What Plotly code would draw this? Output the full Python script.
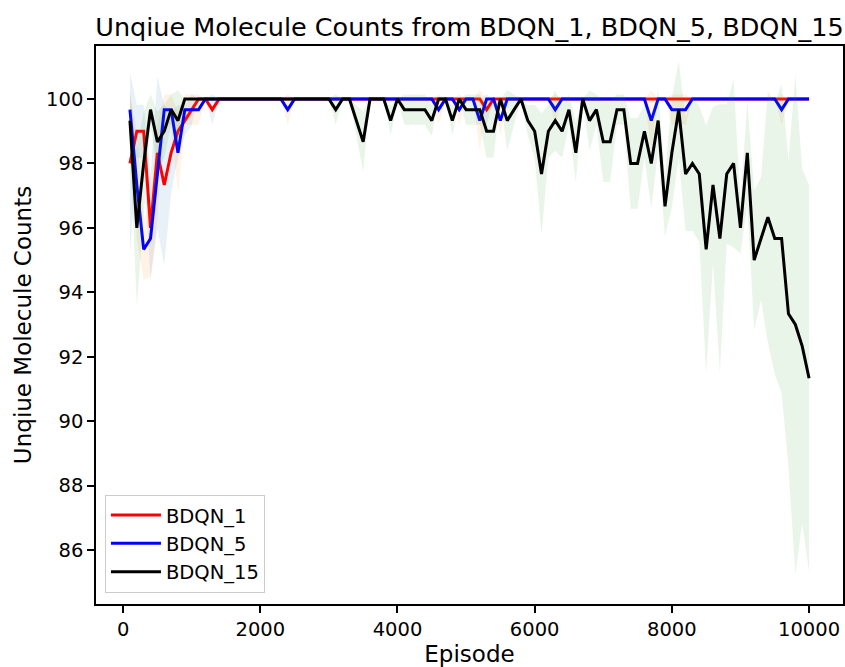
import numpy as np
import plotly.graph_objects as go

episodes = list(range(100, 10001, 100))

bdqn1_mean = [
    98.0, 99.0, 99.0, 96.0, 98.33, 97.33, 98.33, 99.0, 99.33, 99.67,
    100, 100, 99.67, 100, 100, 100, 100, 100, 100, 100,
    100, 100, 100, 100, 100, 100, 100, 100, 100, 100,
    100, 100, 100, 100, 100, 100, 100, 100, 100, 100,
    100, 100, 100, 100, 100, 100, 100, 100, 100, 100,
    100, 100, 99.67, 100, 100, 100, 100, 100, 100, 100,
    100, 100, 100, 100, 100, 100, 100, 100, 100, 100,
    100, 100, 100, 100, 100, 100, 100, 100, 100, 100,
    100, 100, 100, 100, 100, 100, 100, 100, 100, 100,
    100, 100, 100, 100, 100, 100, 100, 100, 100, 100,
]
bdqn1_std = [
    2.83, 0.82, 0.82, 1.63, 2.36, 2.49, 1.25, 0.82, 0.47, 0.47,
    0, 0, 0.47, 0, 0, 0, 0, 0, 0, 0,
    0, 0, 0, 0, 0, 0, 0, 0, 0, 0,
    0, 0, 0, 0, 0, 0, 0, 0, 0, 0,
    0, 0, 0, 0, 0, 0, 0, 0, 0, 0,
    0, 0, 0.47, 0, 0, 0, 0, 0, 0, 0,
    0, 0, 0, 0, 0, 0, 0, 0, 0, 0,
    0, 0, 0, 0, 0, 0, 0, 0, 0, 0,
    0, 0, 0, 0, 0, 0, 0, 0, 0, 0,
    0, 0, 0, 0, 0, 0, 0, 0, 0, 0,
]

bdqn5_mean = [
    99.67, 97.33, 95.33, 95.67, 97.67, 99.67, 99.67, 98.33, 99.67, 99.67,
    99.67, 100, 100, 100, 100, 100, 100, 100, 100, 100,
    100, 100, 100, 99.67, 100, 100, 100, 100, 100, 100,
    100, 100, 100, 100, 100, 100, 100, 100, 100, 100,
    100, 100, 100, 100, 100, 99.67, 100, 100, 99.67, 100,
    100, 99.33, 100, 100, 99.33, 100, 100, 100, 100, 100,
    100, 100, 99.67, 100, 100, 100, 100, 100, 100, 100,
    100, 100, 100, 100, 100, 100, 99.33, 100, 100, 99.67,
    99.67, 99.67, 100, 100, 100, 100, 100, 100, 100, 100,
    100, 100, 100, 100, 100, 99.67, 100, 100, 100, 100,
]
bdqn5_std = [
    0.47, 1.7, 0.94, 1.2, 1.5, 0.47, 0.47, 1.25, 0.47, 0.47,
    0.47, 0, 0, 0, 0, 0, 0, 0, 0, 0,
    0, 0, 0, 0.47, 0, 0, 0, 0, 0, 0,
    0, 0, 0, 0, 0, 0, 0, 0, 0, 0,
    0, 0, 0, 0, 0, 0.47, 0, 0, 0.47, 0,
    0, 0.94, 0, 0, 0.47, 0, 0, 0, 0, 0,
    0, 0, 0.47, 0, 0, 0, 0, 0, 0, 0,
    0, 0, 0, 0, 0, 0, 0.94, 0, 0, 0.47,
    0.47, 0.47, 0, 0, 0, 0, 0, 0, 0, 0,
    0, 0, 0, 0, 0, 0.47, 0, 0, 0, 0,
]

bdqn15_mean = [
    99.33, 96.0, 98.0, 99.67, 98.67, 99.0, 99.67, 99.33, 100, 100,
    100, 100, 100, 100, 100, 100, 100, 100, 100, 100,
    100, 100, 100, 100, 100, 100, 100, 100, 100, 100,
    99.67, 100, 100, 99.33, 98.67, 100, 100, 100, 99.33, 100,
    99.67, 99.67, 99.67, 99.67, 99.33, 100, 100, 99.33, 100, 99.67,
    99.67, 99.67, 99.0, 99.0, 100, 99.33, 99.67, 100, 99.33, 99.0,
    97.67, 99.0, 99.33, 99.0, 99.67, 98.33, 100, 99.33, 99.67, 98.67,
    98.67, 99.67, 99.67, 98.0, 98.0, 99.0, 98.0, 99.33, 96.67, 98.33,
    99.67, 97.67, 98.0, 97.67, 95.33, 97.33, 95.67, 97.67, 98.0, 96.0,
    98.33, 95.0, 95.67, 96.33, 95.67, 95.67, 93.33, 93.0, 92.33, 91.33,
]
bdqn15_std = [
    0.94, 2.43, 1.6, 0.47, 0.94, 0.82, 0.47, 0.94, 0, 0,
    0, 0, 0, 0, 0, 0, 0, 0, 0, 0,
    0, 0, 0, 0, 0, 0, 0, 0, 0, 0,
    0.47, 0, 0, 0.47, 0.94, 0, 0, 0, 0.47, 0,
    0.47, 0.47, 0.47, 0.47, 0.47, 0, 0, 0.47, 0, 0.47,
    0.47, 0.47, 0.82, 0.82, 0, 0.94, 0.47, 0, 0.47, 0.82,
    1.89, 0.82, 0.94, 0.82, 0.47, 0.94, 0, 0.94, 0.47, 1.25,
    1.25, 0.47, 0.47, 1.41, 1.41, 0.82, 1.41, 0.94, 0.94, 1.7,
    1.5, 1.77, 2.1, 2.1, 3.84, 2.43, 4.17, 2.17, 2.6, 0.8,
    1.6, 2.17, 1.9, 3.9, 4.2, 4.8, 4.76, 7.77, 5.5, 6.0,
]

x_ticks = [0, 2000, 4000, 6000, 8000, 10000]
y_ticks = [86, 88, 90, 92, 94, 96, 98, 100]

series = [
    ("BDQN_1", bdqn1_mean, bdqn1_std, "red", "rgba(31,119,180,0.1)"),
    ("BDQN_5", bdqn5_mean, bdqn5_std, "blue", "rgba(255,127,14,0.1)"),
    ("BDQN_15", bdqn15_mean, bdqn15_std, "black", "rgba(44,160,44,0.1)"),
]

fig = go.Figure()
for name, m, s, col, fcol in series:
    m = np.array(m)
    s = np.array(s)
    fig.add_trace(go.Scatter(x=episodes, y=m + s, mode="lines", line=dict(width=0),
                             showlegend=False, hoverinfo="skip"))
    fig.add_trace(go.Scatter(x=episodes, y=m - s, mode="lines", line=dict(width=0),
                             fill="tonexty", fillcolor=fcol, showlegend=False, hoverinfo="skip"))
    fig.add_trace(go.Scatter(x=episodes, y=m, mode="lines", name=name,
                             line=dict(color=col, width=3)))

axis_common = dict(showline=True, linecolor="black", linewidth=1.5, mirror=True,
                   ticks="outside", ticklen=7, tickwidth=1.5, tickcolor="black",
                   showgrid=False, zeroline=False, automargin=False, tickformat="d")

fig.update_layout(
    width=845, height=667,
    margin=dict(l=96, r=2, t=46, b=63),
    plot_bgcolor="white", paper_bgcolor="white",
    font=dict(family="DejaVu Sans", size=19.5, color="black"),
    title=dict(text="Unqiue Molecule Counts from BDQN_1, BDQN_5, BDQN_15",
               x=(96 + 843) / 2 / 845, xanchor="center",
               y=1 - 27 / 667, yanchor="middle", font=dict(size=25.5)),
    xaxis=dict(range=[-395, 10495], tickvals=x_ticks,
               title=dict(text="Episode", standoff=6), **axis_common),
    yaxis=dict(range=[84.324, 101.645], tickvals=y_ticks,
               title=dict(text="Unqiue Molecule Counts", standoff=8), **axis_common),
    legend=dict(x=0.012, y=0.02, xanchor="left", yanchor="bottom", traceorder="normal",
                itemwidth=50,
                bgcolor="rgba(255,255,255,0.8)", bordercolor="#cccccc", borderwidth=1,
                font=dict(size=19.5)),
)

fig.write_html("out.html", config={"displayModeBar": False},
               post_script="document.body.style.margin='0';document.body.style.overflow='hidden';")
